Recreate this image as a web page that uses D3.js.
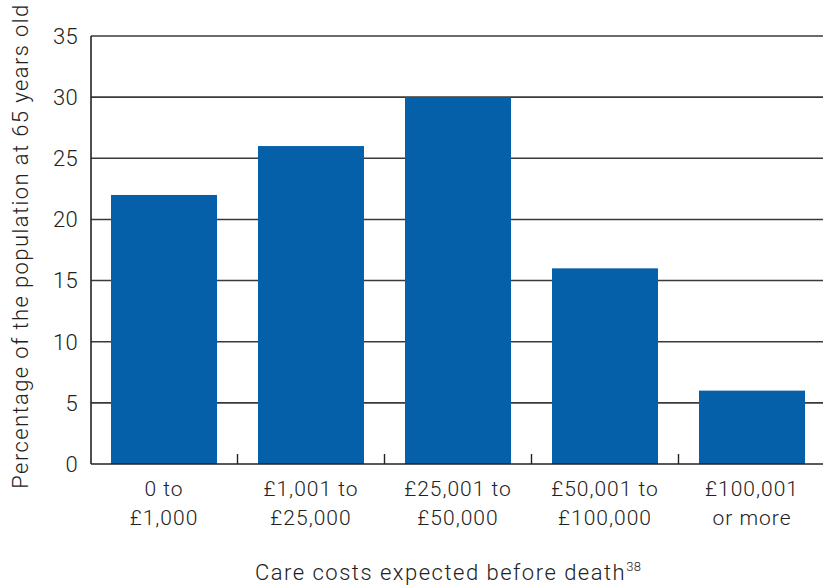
<!DOCTYPE html>
<html><head><meta charset="utf-8">
<script src="https://cdn.jsdelivr.net/npm/d3@7"></script>
<style>body{margin:0;background:#fff}text{font-family:Roboto,sans-serif;font-weight:300;fill:#222}</style>
</head><body><svg id="c" width="823" height="587"></svg>
<script>
const categories = [["0 to","£1,000"],["£1,001 to","£25,000"],["£25,001 to","£50,000"],["£50,001 to","£100,000"],["£100,001","or more"]];
const values = [22, 26, 30, 16, 6];
const yTicks = [0,5,10,15,20,25,30,35];

(function(){
const svg = d3.select("#c");
const mLeft = 91, mTop = 36, mBottom = 464, mRight = 825.5;
const x = d3.scaleBand().domain(d3.range(categories.length)).range([90.5, mRight]).paddingInner(41/147).paddingOuter(20.5/147);
const y = d3.scaleLinear().domain([0,35]).range([mBottom, mTop]);

svg.append("g").selectAll("line").data(yTicks.filter(d=>d>0)).join("line")
  .attr("x1", mLeft).attr("x2", 823).attr("y1", d=>y(d)).attr("y2", d=>y(d))
  .attr("stroke", "#3a3a3a").attr("stroke-width", 1.6);

svg.append("g").selectAll("rect").data(values).join("rect")
  .attr("x", (d,i)=>x(i)).attr("width", x.bandwidth())
  .attr("y", d=>y(d)).attr("height", d=>y(0)-y(d))
  .attr("fill", "#0560a9");

svg.append("line").attr("x1", mLeft).attr("x2", 823).attr("y1", mBottom).attr("y2", mBottom).attr("stroke", "#222").attr("stroke-width", 1.6);
const step = x.step();
svg.append("g").selectAll("line").data(d3.range(1, categories.length)).join("line")
  .attr("x1", d=>x(d) - (step - x.bandwidth())/2).attr("x2", d=>x(d) - (step - x.bandwidth())/2)
  .attr("y1", mBottom).attr("y2", mBottom-10).attr("stroke", "#222").attr("stroke-width", 1.4);

svg.append("line").attr("x1", mLeft).attr("x2", mLeft).attr("y1", mTop).attr("y2", mBottom).attr("stroke", "#222").attr("stroke-width", 1.6);
svg.append("g").selectAll("text").data(yTicks).join("text")
  .attr("x", 78).attr("y", d=>y(d)).attr("dy", "0.36em").attr("text-anchor", "end")
  .attr("font-size", 22).attr("letter-spacing", 0.3).text(d=>d);

const cl = svg.append("g").selectAll("text").data(categories).join("text")
  .attr("text-anchor", "middle").attr("font-size", 21).attr("letter-spacing", 1)
  .attr("x", (d,i)=>x(i)+x.bandwidth()/2).attr("y", 496);
cl.selectAll("tspan").data(d=>d).join("tspan")
  .attr("x", function(){return this.parentNode.getAttribute("x");})
  .attr("dy", (d,i)=>i? 29 : 0).text(d=>d);

const xt = svg.append("text").attr("x", 255).attr("y", 580).attr("text-anchor", "start").attr("font-size", 22).attr("letter-spacing", 1.5);
xt.append("tspan").text("Care costs expected before death");
xt.append("tspan").attr("font-size", 13).attr("letter-spacing", 0.3).attr("dy", -9).text("38");

svg.append("text").attr("transform", "translate(28,246) rotate(-90)").attr("text-anchor", "middle")
  .attr("font-size", 22).attr("letter-spacing", 1.4).text("Percentage of the population at 65 years old");
})();
</script></body></html>
